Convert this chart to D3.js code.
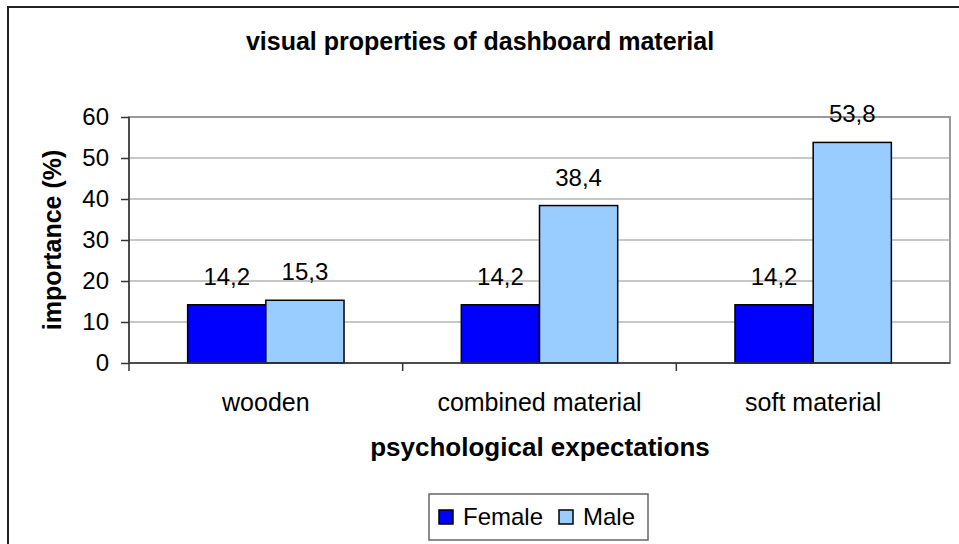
<!DOCTYPE html>
<html>
<head>
<meta charset="utf-8">
<script src="https://cdn.jsdelivr.net/npm/d3@7"></script>
<style>
  body { margin: 0; background: #fff; }
  svg text { font-family: Arial, "Liberation Sans", sans-serif; fill: #000; }
  .grid line { stroke: #b4b4b4; stroke-width: 1.5px; }
  .axis path, .axis line { stroke: #333; stroke-width: 1.5px; }
  .axis text { font-size: 24px; }
  .x.axis text { font-size: 25px; }
</style>
</head>
<body>
<div id="chart"></div>
<script>
(function () {
    "use strict";

    var categories = ["wooden", "combined material", "soft material"],
        series = ["Female", "Male"],
        female = [14.2, 14.2, 14.2],
        male = [15.3, 38.4, 53.8],
        yTicks = [0, 10, 20, 30, 40, 50, 60],
        colors = ["#0000ff", "#99ccff"],

        widthGlobal = 959,
        heightGlobal = 544,
        margin = {top: 117, right: 9, bottom: 181, left: 129},
        width = widthGlobal - margin.left - margin.right,
        height = 363 - margin.top,

        values = [female, male],
        data = categories.map(function (c, i) {
            return { cat: c, vals: series.map(function (s, j) { return { s: s, j: j, v: values[j][i] }; }) };
        }),

        x = d3.scaleBand()
        .domain(categories)
        .range([0, width])
        .paddingInner(0)
        .paddingOuter(0),

        // Excel gap width 150 %
        groupW = x.bandwidth() / 3.5 * 2,
        x1 = d3.scaleBand()
        .domain(series)
        .range([0, groupW]),

        y = d3.scaleLinear()
        .domain([0, 60])
        .range([height, 0]),

        svg = d3.select("#chart").append("svg")
        .attr("width", widthGlobal)
        .attr("height", heightGlobal),

        g;

    // cadre extérieur
    svg.append("rect")
        .attr("x", 8)
        .attr("y", 7)
        .attr("width", 980)
        .attr("height", 560)
        .attr("fill", "none")
        .attr("stroke", "#222")
        .attr("stroke-width", 2);

    svg.append("text")
        .attr("x", 480)
        .attr("y", 50)
        .attr("text-anchor", "middle")
        .attr("font-size", "25px")
        .attr("font-weight", "bold")
        .text("visual properties of dashboard material");

    g = svg.append("g")
        .attr("transform", "translate(" + margin.left + "," + margin.top + ")");

    g.append("g").attr("class", "grid").selectAll("line")
        .data(yTicks.slice(1))
        .enter().append("line")
        .attr("x1", 0)
        .attr("x2", width)
        .attr("y1", function (d) { return y(d); })
        .attr("y2", function (d) { return y(d); });

    // bord de la zone de tracé
    g.append("rect")
        .attr("width", width)
        .attr("height", height)
        .attr("fill", "none")
        .attr("stroke", "#999")
        .attr("stroke-width", 2);

    var groups = g.selectAll(".grp")
        .data(data)
        .enter().append("g")
        .attr("class", "grp")
        .attr("transform", function (d) { return "translate(" + (x(d.cat) + (x.bandwidth() - groupW) / 2) + ",0)"; });

    groups.selectAll("rect")
        .data(function (d) { return d.vals; })
        .enter().append("rect")
        .attr("x", function (d) { return x1(d.s); })
        .attr("y", function (d) { return y(d.v); })
        .attr("width", x1.bandwidth())
        .attr("height", function (d) { return y(0) - y(d.v); })
        .attr("fill", function (d) { return colors[d.j]; })
        .attr("stroke", "#000")
        .attr("stroke-width", 1.5);

    groups.selectAll(".lbl")
        .data(function (d) { return d.vals; })
        .enter().append("text")
        .attr("class", "lbl")
        .attr("x", function (d) { return x1(d.s) + x1.bandwidth() / 2; })
        .attr("y", function (d) { return y(d.v) - 20; })
        .attr("text-anchor", "middle")
        .attr("font-size", "24px")
        .text(function (d) { return String(d.v).replace(".", ","); });

    g.append("g")
        .attr("class", "y axis")
        .call(d3.axisLeft(y).tickValues(yTicks).tickSize(8).tickPadding(12).tickFormat(d3.format("d")))
        .call(function (a) { a.select(".domain").attr("d", "M0," + (height + 8) + "V0"); });

    g.append("g")
        .attr("class", "x axis")
        .attr("transform", "translate(0," + height + ")")
        .call(d3.axisBottom(x).tickSize(0).tickPadding(30))
        .call(function (a) {
            a.select(".domain").attr("d", "M0,0H" + width);
            a.selectAll(".tick line").remove();
        });

    // graduations entre les catégories
    g.append("g").attr("class", "axis").selectAll("line")
        .data(categories.slice(1))
        .enter().append("line")
        .attr("x1", function (d) { return x(d); })
        .attr("x2", function (d) { return x(d); })
        .attr("y1", height)
        .attr("y2", height + 8);

    svg.append("text")
        .attr("transform", "translate(61," + (margin.top + height / 2) + ") rotate(-90)")
        .attr("text-anchor", "middle")
        .attr("font-size", "25px")
        .attr("font-weight", "bold")
        .text("importance (%)");

    svg.append("text")
        .attr("x", 540)
        .attr("y", 456)
        .attr("text-anchor", "middle")
        .attr("font-size", "26px")
        .attr("font-weight", "bold")
        .text("psychological expectations");

    // légende
    var leg = svg.append("g");
    leg.append("rect")
        .attr("x", 429)
        .attr("y", 494)
        .attr("width", 219)
        .attr("height", 46)
        .attr("fill", "#fff")
        .attr("stroke", "#666")
        .attr("stroke-width", 1.5);
    var items = leg.selectAll(".item")
        .data(series)
        .enter().append("g")
        .attr("class", "item")
        .attr("transform", function (d, i) { return "translate(" + (439 + i * 120) + ",510)"; });
    items.append("rect")
        .attr("width", 14)
        .attr("height", 14)
        .attr("fill", function (d, i) { return colors[i]; })
        .attr("stroke", "#000")
        .attr("stroke-width", 1.5);
    items.append("text")
        .attr("x", 24)
        .attr("y", 15)
        .attr("font-size", "24px")
        .text(function (d) { return d; });
}());
</script>
</body>
</html>
